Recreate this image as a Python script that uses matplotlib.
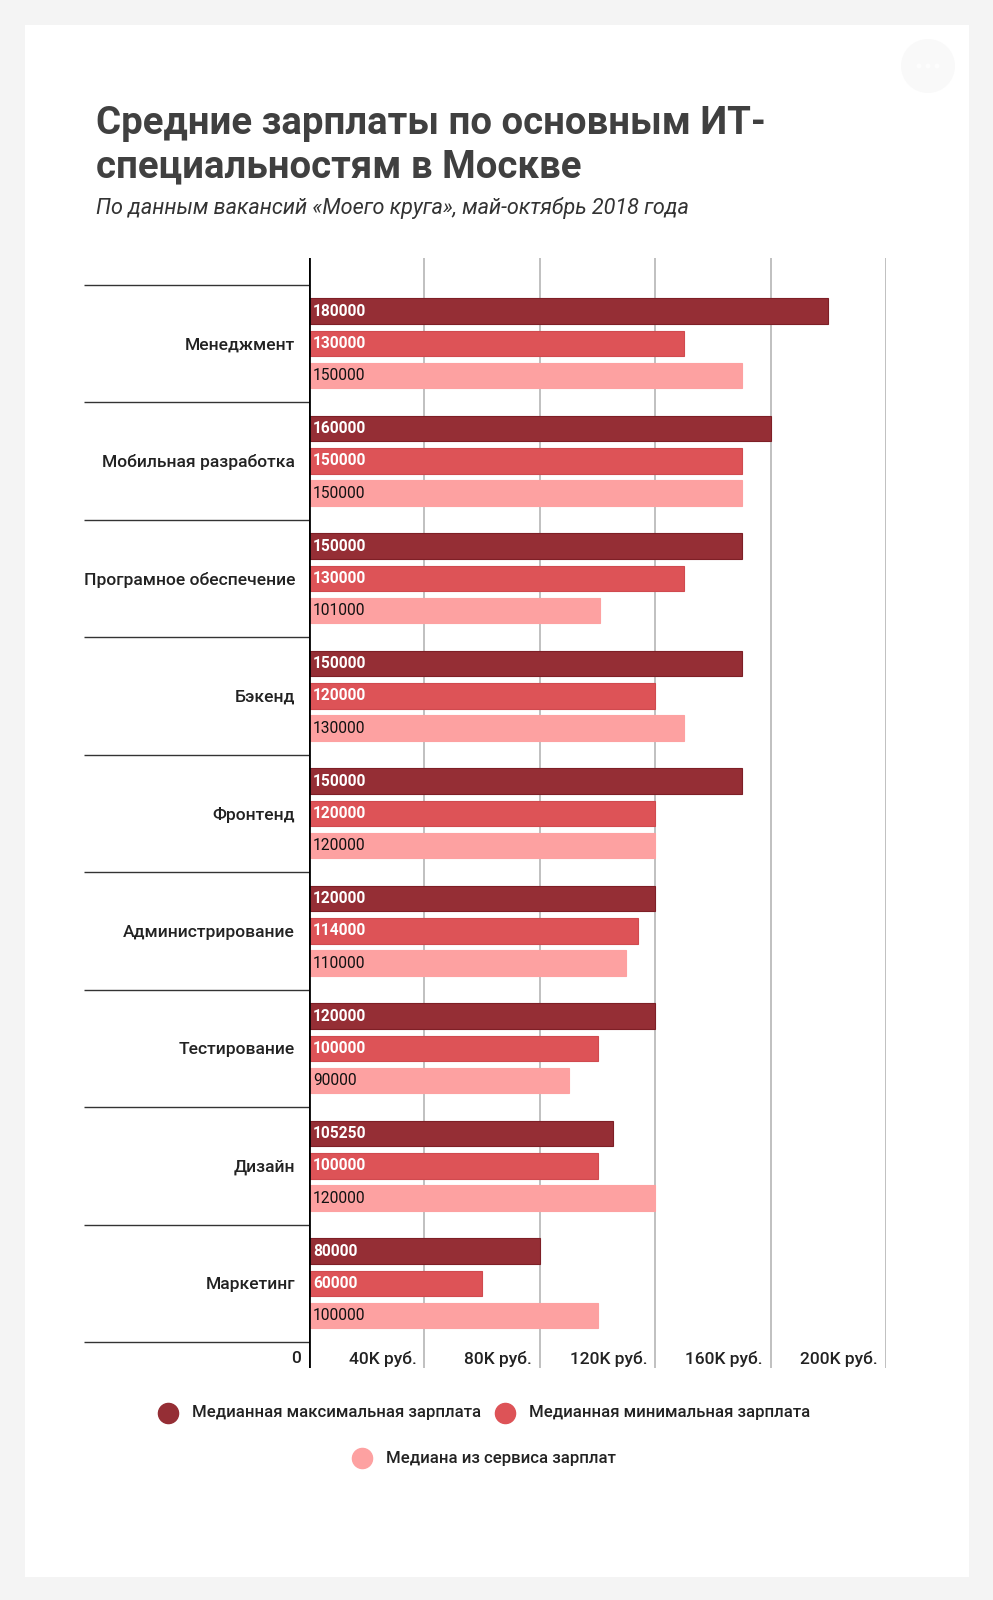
import matplotlib.pyplot as plt
from matplotlib.patches import Rectangle, Circle
from matplotlib import transforms

plt.rcParams['font.family'] = ['Roboto', 'DejaVu Sans']

# данные
categories = ['Менеджмент', 'Мобильная разработка', 'Програмное обеспечение', 'Бэкенд',
              'Фронтенд', 'Администрирование', 'Тестирование', 'Дизайн', 'Маркетинг']
max_salary = [180000, 160000, 150000, 150000, 150000, 120000, 120000, 105250, 80000]
min_salary = [130000, 150000, 130000, 120000, 120000, 114000, 100000, 100000, 60000]
service_median = [150000, 150000, 101000, 130000, 120000, 110000, 90000, 120000, 100000]
x_ticks = [0, 40000, 80000, 120000, 160000, 200000]
x_tick_labels = ['0', '40K руб.', '80K руб.', '120K руб.', '160K руб.', '200K руб.']
series_names = ['Медианная максимальная зарплата', 'Медианная минимальная зарплата',
                'Медиана из сервиса зарплат']
colors = ['#952e35', '#dd5357', '#fda1a1']
edge_colors = ['#7e1f26', '#d04a4f', '#fda1a1']
label_colors = ['white', 'white', '#111111']
label_weights = ['bold', 'bold', 'normal']

W, H = 993, 1600
fig = plt.figure(figsize=(W / 100, H / 100), dpi=100)
fig.patch.set_facecolor('#f4f4f4')

# фон в пиксельных координатах
bg = fig.add_axes([0, 0, 1, 1])
bg.set_xlim(0, W)
bg.set_ylim(H, 0)
bg.axis('off')
bg.set_zorder(0)
bg.add_patch(Rectangle((25, 25), 944, 1552, facecolor='white', edgecolor='none'))
bg.add_patch(Circle((928, 66), 27, facecolor='#f9f9f9', edgecolor='none'))
for dx in (-9, 0, 9):
    bg.add_patch(Circle((928 + dx, 66), 2.5, facecolor='#fdfdfd', edgecolor='none'))

bg.text(96, 134, 'Средние зарплаты по основным ИТ-', fontsize=27.6, fontweight='bold',
        color='#404040', va='baseline', ha='left')
bg.text(96, 177, 'специальностям в Москве', fontsize=27.6, fontweight='bold',
        color='#404040', va='baseline', ha='left')
bg.text(96, 214, 'По данным вакансий «Моего круга», май-октябрь 2018 года',
        fontsize=15.6, style='italic', color='#333333', va='baseline', ha='left')

# основной график
ax = fig.add_axes([309 / W, 1 - 1368 / H, 577 / W, 1110 / H])
ax.set_zorder(1)
ax.patch.set_alpha(0)

y = list(range(len(categories)))
offsets = [-0.274, 0, 0.274]
values = [max_salary, min_salary, service_median]
lab_tr = transforms.offset_copy(ax.transData, fig=fig, x=4, y=0, units='dots')
for vals, off, col, ec, lcol, lw in zip(values, offsets, colors, edge_colors,
                                        label_colors, label_weights):
    ypos = [i + off for i in y]
    ax.barh(ypos, vals, height=0.217, color=col, edgecolor=ec, linewidth=0.8, zorder=3)
    for v, yy in zip(vals, ypos):
        ax.text(0, yy, f'{v}', color=lcol, fontweight=lw, fontsize=11.2,
                va='center', ha='left', zorder=4, transform=lab_tr)

ax.set_xlim(0, 200000)
ax.set_ylim(8.72, -0.727)

for s in ax.spines.values():
    s.set_visible(False)
ax.set_xticks([])
ax.set_yticks(y)
ax.set_yticklabels(categories, fontsize=12.6, color='#222222', fontweight='medium')
ax.tick_params(axis='y', length=0, pad=10)

for xt in x_ticks[1:]:
    ax.axvline(xt, color='#b5b5b5', lw=1.2, zorder=1)
ax.axvline(0, color='black', lw=2, zorder=5)

# разделители категорий
sep_y = [i - 0.5 for i in range(len(categories) + 1)]
ax.hlines(sep_y, -225 / 577, 0, transform=ax.get_yaxis_transform(),
          color='#333333', lw=1, clip_on=False)

tick_tr = transforms.offset_copy(ax.transData, fig=fig, x=-8, y=0, units='dots')
for xt, lab in zip(x_ticks, x_tick_labels):
    ax.text(xt, 8.64, lab, ha='right', va='center', fontsize=12.5, color='#222222',
            fontweight='medium', transform=tick_tr)

# легенда
leg_items = [(168, 1413), (505, 1413), (362, 1458)]
for (cx, cy), col, name in zip(leg_items, colors, series_names):
    bg.plot([cx], [cy], 'o', color=col, markersize=14.5)
    bg.text(cx + 24, cy, name, fontsize=12.1, color='#222222', va='center', ha='left',
            fontweight='medium')

fig.savefig('out.png', dpi=100, facecolor=fig.get_facecolor())
